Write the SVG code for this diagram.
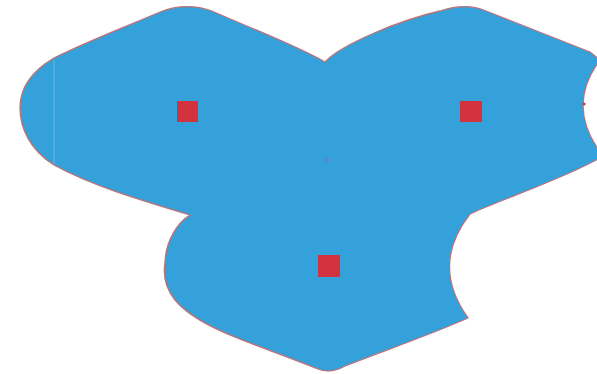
<svg xmlns="http://www.w3.org/2000/svg" width="597" height="374" viewBox="0 0 597 374">
<style>
.blob{fill:#35a1da;stroke:#b9747a;stroke-width:1.3;stroke-linejoin:round}
.sq{fill:#d2323e}
</style>
<rect width="597" height="374" fill="#ffffff"/>
<g id="region">
<path class="blob" d="M325,62 C340,45 400,20 440,11 C452,7 470,4 486,11 L590,52 L600,60 Q566,105 600,152 L600,158 C560,180 500,200 470,214 Q430,265 468,318 C430,335 380,352 345,366 C336,371 328,373 318,369 C260,345 200,330 175,300 C165,288 163,275 165,262 C166,240 178,222 190,215 C140,200 90,185 54,165 C30,150 20,128 20,108 C20,90 30,72 54,58 C90,40 130,25 160,12 C175,6 192,4 212,11 C250,28 295,45 325,62 Z"/>
<line x1="54" y1="60" x2="54" y2="164" stroke="#ffffff" stroke-opacity="0.25" stroke-width="1"/>
<circle cx="326" cy="160" r="3" fill="#6a7cc8" fill-opacity="0.5"/>
<circle cx="584" cy="104" r="1.6" fill="#c0404a"/>
</g>
<g id="node-left"><rect class="sq" x="177" y="101" width="21" height="21"/></g>
<g id="node-right"><rect class="sq" x="460" y="101" width="22" height="21"/></g>
<g id="node-bottom"><rect class="sq" x="318" y="255" width="22" height="22"/></g>
<g id="connectors"></g>
</svg>
